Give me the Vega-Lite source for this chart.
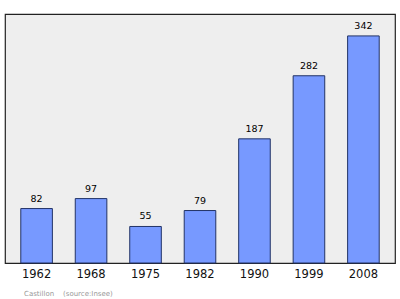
{
  "$schema": "https://vega.github.io/schema/vega-lite/v6.json",
  "width": 390,
  "height": 249,
  "autosize": {"type": "none"},
  "padding": {"left": 5, "top": 14, "right": 5, "bottom": 36},
  "background": "#ffffff",
  "config": {
    "font": "DejaVu Sans",
    "view": {"fill": "#eeeeee", "stroke": "#222222", "strokeWidth": 1.2}
  },
  "title": {
    "text": "Castillon\u00a0\u00a0\u00a0\u00a0(source:Insee)",
    "orient": "bottom",
    "anchor": "start",
    "fontSize": 7,
    "fontWeight": "normal",
    "color": "#999999",
    "dx": 19,
    "offset": 10
  },
  "data": {
    "values": [
      {"year": "1962", "population": 82},
      {"year": "1968", "population": 97},
      {"year": "1975", "population": 55},
      {"year": "1982", "population": 79},
      {"year": "1990", "population": 187},
      {"year": "1999", "population": 282},
      {"year": "2008", "population": 342}
    ]
  },
  "encoding": {
    "x": {
      "field": "year",
      "type": "ordinal",
      "scale": {"paddingInner": 0.42, "paddingOuter": 0.29},
      "axis": {
        "title": null,
        "labelAngle": 0,
        "ticks": false,
        "domain": false,
        "labelFontSize": 11.5,
        "labelColor": "#111111",
        "labelPadding": 5
      }
    },
    "y": {
      "field": "population",
      "type": "quantitative",
      "scale": {"domain": [0, 375], "nice": false},
      "axis": null
    }
  },
  "layer": [
    {
      "mark": {"type": "bar", "fill": "#7799ff", "stroke": "#223366", "strokeWidth": 1, "cornerRadius": 0}
    },
    {
      "mark": {"type": "text", "baseline": "bottom", "dy": -5, "fontSize": 9.5, "color": "#000000"},
      "encoding": {"text": {"field": "population", "type": "quantitative"}}
    }
  ]
}
